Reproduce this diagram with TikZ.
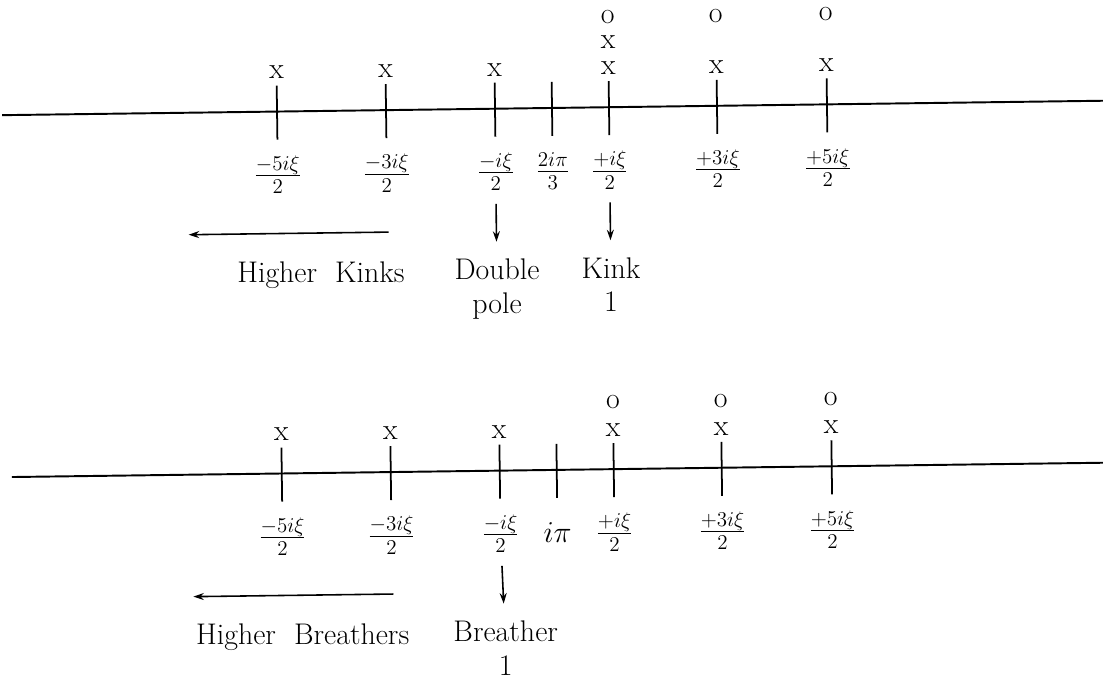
\documentclass[tikz,border=0pt]{standalone}
\usetikzlibrary{arrows.meta}
\begin{document}
\begin{tikzpicture}[x=0.02cm,y=-0.02cm,>={Stealth[length=6pt,width=4pt]},
	axisline/.style={line width=1.1pt},
	tick/.style={line width=1pt},
	sym/.style={font=\fontsize{17}{19}\selectfont,inner sep=0pt},
	frc/.style={font=\fontsize{17}{19}\selectfont,inner sep=0pt},
	txt/.style={font=\fontsize{17}{19}\selectfont,inner sep=0pt,align=center,anchor=north},
	pointer/.style={->,line width=0.9pt,shorten <=13pt*0.567,shorten >=17pt*0.567}]
	\useasboundingbox (0,0) rectangle (1103,675);
	\begin{scope}[rotate around={0.75:(551,337)}]
		% kinks
		\coordinate (KL) at (5,108);
		\coordinate (KR) at (1115,108);
		\draw[axisline] (KL)--(KR);
		\foreach \x in {280,389,498,555,612,720,830}
		\draw[tick] (\x,108-26)--(\x,108+28);
		\foreach \x/\n in {280/1,389/2,498/3,612/5,720/6,830/7}
		\node[sym] (kx\n) at (\x,108-39) {x};
		\node[sym] (kxx) at (612,108-65) {x};
		\foreach \x/\n in {612/5,720/6,830/7}
		\node[sym] (ko\n) at (\x,108-90) {o};
		\foreach \x/\num/\den [count=\i] in {280/-5i\xi/2,389/-3i\xi/2,498/-i\xi/2,555/2i\pi/3,612/+i\xi/2,720/+3i\xi/2,830/+5i\xi/2}
		\node[frc] (kf\i) at (\x,108+63) {$\frac{\num}{\den}$};
		\coordinate (hk0) at (390,108+122);
		\coordinate (hk1) at (190,108+122);
		\draw[->,line width=0.9pt] (hk0)--(hk1);
		\node[txt] (hk) at (322,108+150) {Higher~ Kinks};
		\node[txt] (dp) at (498,108+150) {Double\\pole};
		\node[txt] (k1) at (612,108+150) {Kink\\1};
		\draw[pointer] (kf3)--(dp);
		\draw[pointer] (kf5)--(k1);
		% breathers
		\coordinate (BL) at (10,470);
		\coordinate (BR) at (1102,470);
		\draw[axisline] (BL)--(BR);
		\foreach \x in {280,389,498,555,612,720,830}
		\draw[tick] (\x,470-26)--(\x,470+28);
		\foreach \x/\n in {280/1,389/2,498/3,612/5,720/6,830/7}
		\node[sym] (bx\n) at (\x,470-39) {x};
		\foreach \x/\n in {612/5,720/6,830/7}
		\node[sym] (bo\n) at (\x,470-67) {o};
		\foreach \x/\num/\den [count=\i] in {280/-5i\xi/2,389/-3i\xi/2,498/-i\xi/2,612/+i\xi/2,720/+3i\xi/2,830/+5i\xi/2}
		\node[frc] (bf\i) at (\x,470+63) {$\frac{\num}{\den}$};
		\node[frc] (bip) at (555,470+63) {$i\pi$};
		\coordinate (hb0) at (390,470+122);
		\coordinate (hb1) at (190,470+122);
		\draw[->,line width=0.9pt] (hb0)--(hb1);
		\node[txt] (hb) at (299,470+150) {Higher~ Breathers};
		\node[txt] (b1) at (502,470+150) {Breather\\1};
		\draw[pointer] (bf3)--(b1);
	\end{scope}
\end{tikzpicture}
\end{document}
